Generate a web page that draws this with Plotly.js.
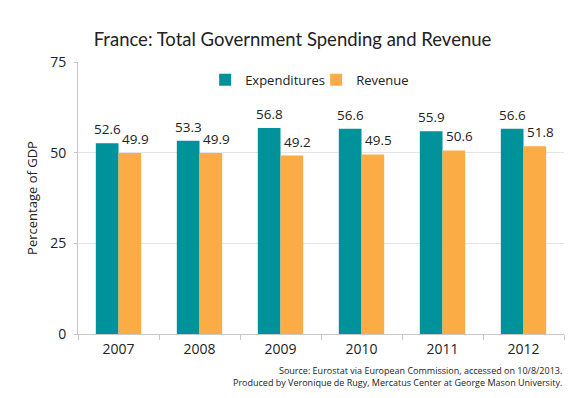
<!DOCTYPE html>
<html>
<head>
<meta charset="utf-8">
<script src="https://cdn.plot.ly/plotly-3.0.1.min.js"></script>
<style>html,body{margin:0;padding:0;background:#fff;}#chart{width:585px;height:398px;}</style>
</head>
<body>
<div id="chart"></div>
<script>
const years = ["2007", "2008", "2009", "2010", "2011", "2012"];
const expenditures = [52.6, 53.3, 56.8, 56.6, 55.9, 56.6];
const revenue = [49.9, 49.9, 49.2, 49.5, 50.6, 51.8];
const yTicks = [0, 25, 50, 75];

const FONT = "Open Sans, Noto Sans, sans-serif";
const teal = "#00929A";
const orange = "#FBAC45";

const traces = [
  {type: "bar", name: "Expenditures", x: years, y: expenditures, marker: {color: teal}, hoverinfo: "none"},
  {type: "bar", name: "Revenue", x: years, y: revenue, marker: {color: orange}, hoverinfo: "none"}
];

// value labels placed through the axes (category index on x, value on y), shifted onto each bar of the group
function labels(vals, xshift) {
  return years.map((yr, i) => ({
    xref: "x", yref: "y", x: i, y: vals[i], text: vals[i].toFixed(1),
    xshift: xshift, yshift: 3, yanchor: "bottom", showarrow: false,
    font: {size: 13.5, color: "#222", family: FONT}
  }));
}

const layout = {
  width: 585, height: 398,
  margin: {l: 78, r: 21, t: 62, b: 64},
  paper_bgcolor: "#fff", plot_bgcolor: "#fff",
  font: {family: FONT, color: "#222"},
  title: {text: "France: Total Government Spending and Revenue", x: 0.5, xanchor: "center", y: 0.9, yref: "container", yanchor: "middle", font: {size: 18.5, color: "#222", family: "Lato, Open Sans, sans-serif"}},
  barmode: "group", bargap: 0.44, bargroupgap: 0,
  showlegend: true,
  legend: {orientation: "h", x: 0.49, xanchor: "center", y: 0.935, yanchor: "middle", font: {size: 13, color: "#222"}, itemwidth: 30, entrywidth: 66, bgcolor: "rgba(0,0,0,0)"},
  xaxis: {
    type: "category", range: [-0.5, 5.5], showline: true, linecolor: "#c8c8c8", linewidth: 1,
    ticks: "outside", tickson: "boundaries", ticklen: 5, tickcolor: "#c8c8c8",
    tickfont: {size: 14, color: "#222"}, showgrid: false, ticklabelstandoff: 2
  },
  yaxis: {
    range: [0, 75], tickvals: yTicks, ticktext: yTicks.map(String),
    showline: true, linecolor: "#c8c8c8", linewidth: 1,
    ticks: "outside", ticklen: 3, tickcolor: "#c8c8c8",
    showgrid: true, gridcolor: "#e4e4e4", zeroline: false,
    tickfont: {size: 14, color: "#222"}, ticklabelstandoff: 5,
    title: {text: "Percentage of GDP", font: {size: 13, color: "#222"}, standoff: 9}
  },
  annotations: [].concat(labels(expenditures, -11.3), labels(revenue, 16.5), [
    {xref: "paper", yref: "paper", x: 1, xanchor: "right", y: -0.136, yanchor: "middle", showarrow: false,
     text: "Source: Eurostat via European Commission, accessed on 10/8/2013.", font: {size: 9, color: "#222"}},
    {xref: "paper", yref: "paper", x: 1, xanchor: "right", y: -0.18, yanchor: "middle", showarrow: false,
     text: "Produced by Veronique de Rugy, Mercatus Center at George Mason University.", font: {size: 9, color: "#222"}}
  ])
};

Plotly.newPlot("chart", traces, layout, {displayModeBar: false, staticPlot: true});
</script>
</body>
</html>
